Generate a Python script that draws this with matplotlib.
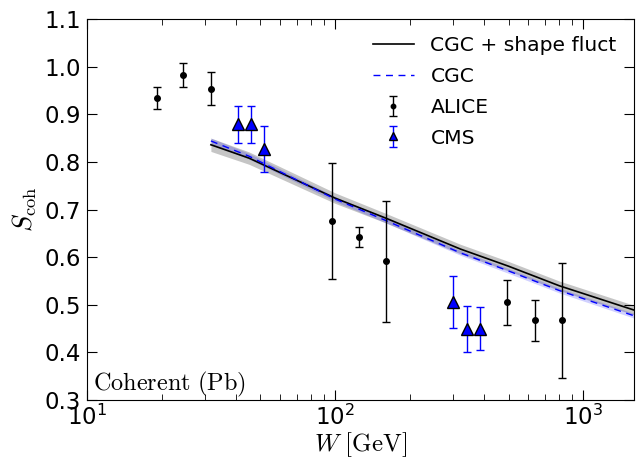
import numpy as np
import matplotlib
matplotlib.use("Agg")
import matplotlib.pyplot as plt

plt.rcParams['mathtext.fontset'] = 'cm'
plt.rcParams['font.family'] = ['DejaVu Sans']

# ALICE data
alice_W = [19.1, 24.4, 31.6, 97.5, 125, 160.7, 495, 638, 818]
alice_S = [0.934, 0.983, 0.954, 0.676, 0.643, 0.591, 0.505, 0.467, 0.467]
alice_err = [0.023, 0.025, 0.035, 0.121, 0.021, 0.127, 0.048, 0.044, 0.121]

# CMS data
cms_W = [40.5, 45.8, 51.9, 299, 340, 385]
cms_S = [0.879, 0.879, 0.827, 0.506, 0.449, 0.450]
cms_err = [0.039, 0.039, 0.049, 0.054, 0.048, 0.046]

# Model curves
model_W = [31.6, 45, 100, 160, 320, 500, 800, 1600]
fluct_S = [0.836, 0.808, 0.724, 0.682, 0.617, 0.581, 0.540, 0.489]
fluct_err = [0.014, 0.013, 0.011, 0.010, 0.010, 0.010, 0.010, 0.010]
cgc_S = [0.844, 0.812, 0.722, 0.677, 0.609, 0.571, 0.530, 0.477]
cgc_err = [0.006, 0.006, 0.005, 0.005, 0.005, 0.005, 0.005, 0.005]

fig = plt.figure(figsize=(6.39, 4.59), dpi=100)
ax = fig.add_axes([0.136, 0.1285, 0.856, 0.83])

mw = np.array(model_W)
fs = np.array(fluct_S); fe = np.array(fluct_err)
cs = np.array(cgc_S); ce = np.array(cgc_err)
ax.fill_between(mw, fs - fe, fs + fe, color='0.55', alpha=0.5, lw=0)
ax.fill_between(mw, cs - ce, cs + ce, color='blue', alpha=0.18, lw=0)
ax.plot(mw, fs, '-', color='k', lw=1.2, label='CGC + shape fluct')
ax.plot(mw, cs, '--', color='blue', lw=1.0, dashes=(5, 4), label='CGC')
ax.errorbar(alice_W, alice_S, yerr=alice_err, fmt='o', color='k', ms=4,
            capsize=3, elinewidth=1, capthick=1, label='ALICE')
ax.errorbar(cms_W, cms_S, yerr=cms_err, fmt='^', color='blue', mfc='blue',
            mec='k', ms=8, ecolor='blue', capsize=3, elinewidth=1, capthick=1,
            label='CMS')

ax.set_xscale('log')
ax.set_xlim(10, 1600)
ax.set_ylim(0.3, 1.1)
ax.set_yticks(np.arange(0.3, 1.11, 0.1))
ax.set_yticklabels(['%.1f' % v for v in np.arange(0.3, 1.11, 0.1)])
ax.tick_params(which='both', direction='in', top=True, right=True, labelsize=16.5)
ax.tick_params(which='major', length=7)
ax.tick_params(which='minor', length=4)
ax.tick_params(axis='x', pad=3.5)
ax.tick_params(axis='y', pad=4)

ax.set_xlabel(r'$W\ [\mathrm{GeV}]$', fontsize=18)
ax.xaxis.set_label_coords(0.5, -0.08)
ax.set_ylabel(r'$S_{\rm coh}$', fontsize=19)
ax.yaxis.set_label_coords(-0.087, 0.5)
ax.text(0.012, 0.025, r'$\mathrm{Coherent\ (Pb)}$', transform=ax.transAxes, fontsize=17.5)

ax.legend(loc='upper right', frameon=False, fontsize=14.6, numpoints=1,
          handlelength=2.05, labelspacing=0.58, borderaxespad=0.45,
          handletextpad=0.8, markerscale=0.8)

fig.savefig('out.png', dpi=100)
